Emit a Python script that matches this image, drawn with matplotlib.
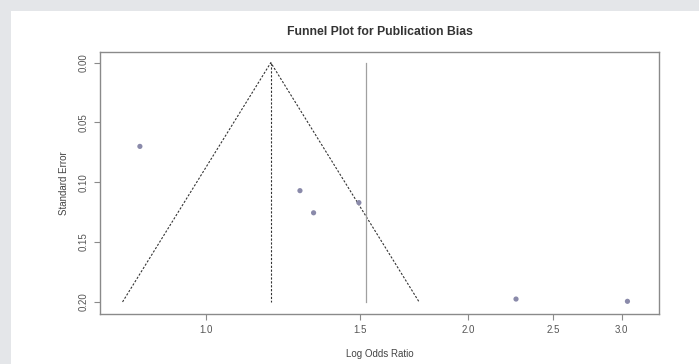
import numpy as np
import matplotlib.pyplot as plt
from matplotlib.patches import Rectangle

plt.rcParams['font.family'] = ['Liberation Sans', 'DejaVu Sans']

# Data (odds ratios plotted on a log axis)
odds_ratio = [0.839, 1.281, 1.328, 1.497, 2.268, 3.045]
std_error = [0.070, 0.107, 0.1255, 0.117, 0.1976, 0.1995]
pooled = 1.186
ref_line = 1.525
se_max = 0.20
x_ticks = [1.0, 1.5, 2.0, 2.5, 3.0]
y_ticks = [0.00, 0.05, 0.10, 0.15, 0.20]

fig = plt.figure(figsize=(6.99, 3.64), dpi=100)
fig.patch.set_facecolor('white')

# light grey page frame at top and left
fig.patches.append(Rectangle((0, 1 - 11 / 364), 1, 11 / 364, transform=fig.transFigure,
                             facecolor='#e4e6e9', edgecolor='none', zorder=0))
fig.patches.append(Rectangle((0, 0), 11 / 699, 1, transform=fig.transFigure,
                             facecolor='#e4e6e9', edgecolor='none', zorder=0))

ax = fig.add_axes([100 / 699, 1 - 314 / 364, 559 / 699, 262 / 364])

# funnel (95% limits around the pooled estimate)
dash = (0, (2, 1.5))
left = pooled * np.exp(-1.96 * se_max)
right = pooled * np.exp(1.96 * se_max)
ax.plot([left, pooled, right], [se_max, 0, se_max], color='#333333', lw=0.8, ls=dash)
ax.plot([pooled, pooled], [0, se_max], color='#333333', lw=0.8, ls=dash)
ax.plot([ref_line, ref_line], [0, se_max], color='#a0a0a0', lw=0.9)

ax.scatter(odds_ratio, std_error, s=14, color='#8a8aaa', edgecolors='none', zorder=3)

ax.set_xscale('log')
ax.set_xlim(0.755, 3.31)
ax.set_ylim(0.2101, -0.0089)
ax.set_xticks(x_ticks)
ax.set_xticklabels([f'{t:.1f}' for t in x_ticks])
ax.minorticks_off()
ax.set_yticks(y_ticks)
ax.set_yticklabels([f'{t:.2f}' for t in y_ticks], rotation=90, va='center')

for s in ax.spines.values():
    s.set_color('#8a8a8a')
    s.set_linewidth(1.0)
ax.tick_params(direction='out', length=4, width=0.8, color='#8a8a8a',
               labelsize=7, labelcolor='#555555', pad=4)

ax.set_xlabel('Log Odds Ratio', fontsize=7, color='#444444', labelpad=10)
ax.set_ylabel('Standard Error', fontsize=7, color='#444444', labelpad=7)
ax.set_title('Funnel Plot for Publication Bias', fontsize=8.8, fontweight='bold',
             color='#333333', pad=12)

fig.savefig('out.png', dpi=100)
